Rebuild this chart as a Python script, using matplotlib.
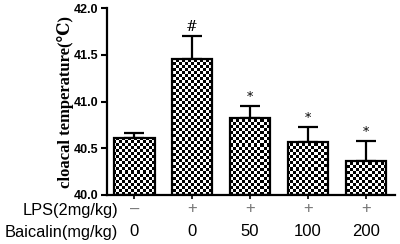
import numpy as np
import matplotlib
matplotlib.use("Agg")
import matplotlib.pyplot as plt

# 数据
groups = ["ctrl", "LPS", "LPS+B50", "LPS+B100", "LPS+B200"]
means = [40.61, 41.46, 40.82, 40.57, 40.36]
sems = [0.05, 0.24, 0.13, 0.16, 0.22]
marks = ["", "#", "*", "*", "*"]
lps_row = ["\u2013", "+", "+", "+", "+"]
baicalin_row = ["0", "0", "50", "100", "200"]
yticks = [40.0, 40.5, 41.0, 41.5, 42.0]

fig = plt.figure(figsize=(4.0, 2.44), dpi=100)
ax = fig.add_axes([0.2675, 0.201, 0.72, 0.766])

x = np.arange(len(groups))
bars = ax.bar(x, np.array(means) - 40.0, bottom=40.0, width=0.7,
              facecolor="white", edgecolor="black", linewidth=1.6, zorder=2)

# 棋盘格填充 (约 3px 一格)
nx, ny = 96, 62
cb = (np.add.outer(np.arange(ny), np.arange(nx)) % 2).astype(float)
for b in bars:
    im = ax.imshow(cb, cmap="gray", vmin=0, vmax=1, interpolation="nearest",
                   extent=[-0.47, 4.5, 40.0, 42.0], aspect="auto", zorder=2.5)
    im.set_clip_path(b)
    b.set_zorder(3)
    b.set_facecolor("none")

ax.errorbar(x, means, yerr=[np.zeros(len(sems)), sems], fmt="none",
            ecolor="black", elinewidth=1.6, capsize=7.5, capthick=1.6, zorder=1)

for xi, m, s, t in zip(x, means, sems, marks):
    if t:
        ax.text(xi, m + s + 0.02, t, ha="center", va="bottom",
                fontsize=10 if t == "#" else 9, family="DejaVu Serif")

ax.set_xlim(-0.47, 4.5)
ax.set_ylim(40.0, 42.0)
ax.set_yticks(yticks)
ax.set_yticklabels([f"{v:.1f}" for v in yticks], fontsize=9, fontweight="bold",
                   family="Liberation Sans")
ax.set_xticks(x)
ax.set_xticklabels([])
ax.tick_params(axis="y", direction="out", length=4, width=1.5, pad=2)
ax.tick_params(axis="x", direction="out", length=3, width=1.2)
for s in ["top", "right"]:
    ax.spines[s].set_visible(False)
for s in ["left", "bottom"]:
    ax.spines[s].set_linewidth(1.6)

ax.set_ylabel("cloacal temperature(\u2103)", fontsize=12, fontweight="bold",
              family=["Liberation Serif", "DejaVu Serif"], labelpad=0)

# 下方分组标签
for xi, a, b in zip(x, lps_row, baicalin_row):
    ax.text(xi, -0.075, a, transform=ax.get_xaxis_transform(), ha="center",
            va="center", fontsize=12, color="#777777", family="Liberation Sans")
    ax.text(xi, -0.193, b, transform=ax.get_xaxis_transform(), ha="center",
            va="center", fontsize=12, family="Liberation Sans")
fig.text(0.295, 0.139, "LPS(2mg/kg)", ha="right", va="center", fontsize=11.8,
         family="Liberation Sans")
fig.text(0.295, 0.049, "Baicalin(mg/kg)", ha="right", va="center", fontsize=11.8,
         family="Liberation Sans")

fig.savefig("out.png", dpi=100)
